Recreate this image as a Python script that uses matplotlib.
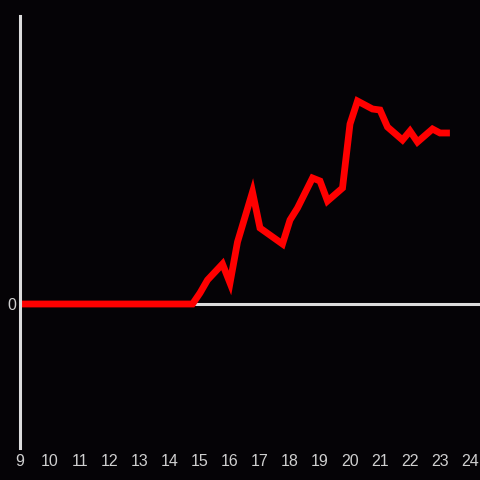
import numpy as np
import matplotlib.pyplot as plt

# hours of day and the value of the red series (0 = baseline)
hours = [9.0, 14.75, 15.0, 15.25, 15.75, 16.0, 16.25, 16.75, 17.0, 17.75, 18.0, 18.25,
         18.75, 19.0, 19.25, 19.75, 20.0, 20.25, 20.75, 21.0, 21.25, 21.75, 22.0,
         22.25, 22.75, 23.0, 23.33]
values = [0, 0, 11, 24, 40, 21, 62, 112, 76, 60, 84, 96,
          126, 123, 103, 116, 180, 203, 195, 194, 177, 164, 173,
          162, 175, 171, 171]
xticks = list(range(9, 25))

bg = '#050306'
axis_col = '#dcdcdc'

plt.rcParams['font.family'] = ['Liberation Sans', 'DejaVu Sans']

fig = plt.figure(figsize=(4.8, 4.8), dpi=100, facecolor=bg)
ax = fig.add_axes([20 / 480, 32 / 480, 460 / 480, 432 / 480])
ax.set_facecolor(bg)

ax.set_xlim(9, 9 + 460 / 30)
ax.set_ylim(-144, 288)

# baseline at zero
ax.axhline(0, color=axis_col, lw=2.2, zorder=1)
ax.plot(hours, values, color='#ff0000', lw=4.9, solid_joinstyle='miter',
        solid_capstyle='butt', zorder=2)

for s in ['top', 'right', 'bottom']:
    ax.spines[s].set_visible(False)
ax.spines['left'].set_color(axis_col)
ax.spines['left'].set_linewidth(2.2)

ax.set_xticks(xticks)
ax.set_xticklabels([str(t) for t in xticks])
ax.set_yticks([0])
ax.set_yticklabels(['0'])
ax.tick_params(axis='both', length=0, colors='#cfcfcf', labelsize=11.5)
ax.tick_params(axis='x', pad=4)
ax.tick_params(axis='y', pad=3)

fig.savefig('out.png', dpi=100, facecolor=bg)
